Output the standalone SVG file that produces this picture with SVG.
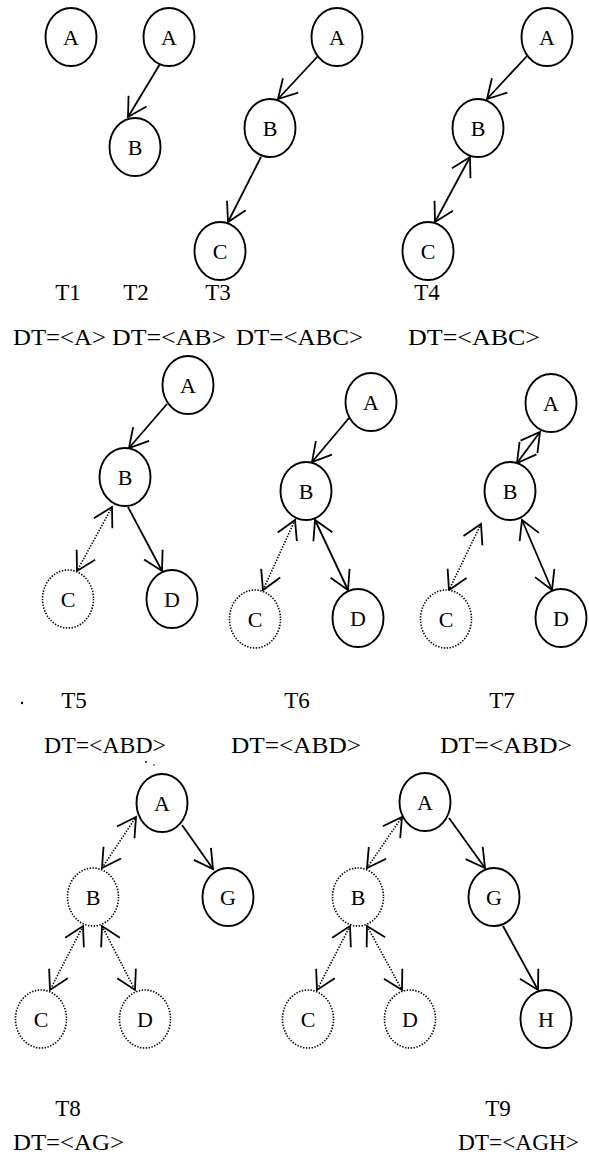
<svg xmlns="http://www.w3.org/2000/svg" width="589" height="1159" viewBox="0 0 589 1159">
  <style>
    .n { fill: #fff; stroke: #000; stroke-width: 1.9; }
    .nd { fill: #fff; stroke: #000; stroke-width: 1.6; stroke-dasharray: 1.4 1.5; }
    .nl { font-family: "Liberation Serif", "Times New Roman", serif; font-size: 22px; text-anchor: middle; fill: #000; }
    .e { fill: none; stroke: #000; stroke-width: 1.8; }
    .ed { fill: none; stroke: #000; stroke-width: 1.6; stroke-dasharray: 1.4 1.5; }
    .one { marker-end: url(#ah); }
    .two { marker-start: url(#ah); marker-end: url(#ah); }
    .cap { font-family: "Liberation Serif", "Times New Roman", serif; font-size: 23px; fill: #000; }
    .mid { text-anchor: middle; }
  </style>
  <defs>
    <marker id="ah" viewBox="-22 -13 26 26" refX="0" refY="0" markerWidth="26" markerHeight="26" markerUnits="userSpaceOnUse" orient="auto-start-reverse">
      <path d="M-18.5,-10.5 L0,0 L-18.5,10.5" fill="none" stroke="#000" stroke-width="1.8"/>
    </marker>
  </defs>

  <!-- connectors -->
  <g id="edges">
    <!-- T2 -->
    <line class="e one" x1="160" y1="64" x2="128" y2="117"/>
    <!-- T3 -->
    <line class="e one" x1="318" y1="56" x2="278" y2="99"/>
    <line class="e one" x1="261" y1="157" x2="228" y2="222"/>
    <!-- T4 -->
    <line class="e one" x1="527" y1="56" x2="487" y2="99"/>
    <line class="e two" x1="470" y1="157" x2="435" y2="222"/>
    <!-- T5 -->
    <line class="e one" x1="167" y1="404" x2="129" y2="448"/>
    <line class="ed two" x1="112" y1="507" x2="77" y2="571"/>
    <line class="e one" x1="128" y1="507" x2="162" y2="571"/>
    <!-- T6 -->
    <line class="e one" x1="349" y1="418" x2="312" y2="462"/>
    <line class="ed two" x1="295" y1="520" x2="263" y2="590"/>
    <line class="e two" x1="315" y1="520" x2="348" y2="590"/>
    <!-- T7 -->
    <line class="e two" x1="517" y1="463" x2="540" y2="432"/>
    <line class="ed two" x1="481" y1="524" x2="449" y2="590"/>
    <line class="e two" x1="522" y1="520" x2="552" y2="590"/>
    <!-- T8 -->
    <line class="ed two" x1="102" y1="868" x2="136" y2="817"/>
    <line class="e one" x1="182" y1="825" x2="213" y2="869"/>
    <line class="ed two" x1="83" y1="926" x2="50" y2="990"/>
    <line class="ed two" x1="102" y1="926" x2="135" y2="990"/>
    <!-- T9 -->
    <line class="ed two" x1="367" y1="868" x2="402" y2="817"/>
    <line class="e one" x1="449" y1="818" x2="485" y2="868"/>
    <line class="ed two" x1="350" y1="926" x2="317" y2="990"/>
    <line class="ed two" x1="367" y1="926" x2="402" y2="990"/>
    <line class="e one" x1="503" y1="926" x2="538" y2="990"/>
  </g>

  <!-- T1 -->
  <g id="t1-a"><ellipse class="n" cx="71" cy="37" rx="25.5" ry="29"/><text class="nl" x="71" y="44.5">A</text></g>
  <!-- T2 -->
  <g id="t2-a"><ellipse class="n" cx="169" cy="37" rx="25.5" ry="29"/><text class="nl" x="169" y="44.5">A</text></g>
  <g id="t2-b"><ellipse class="n" cx="135" cy="147" rx="25.5" ry="29"/><text class="nl" x="135" y="154.5">B</text></g>
  <!-- T3 -->
  <g id="t3-a"><ellipse class="n" cx="337" cy="37" rx="25.5" ry="29"/><text class="nl" x="337" y="44.5">A</text></g>
  <g id="t3-b"><ellipse class="n" cx="270" cy="128" rx="25.5" ry="29"/><text class="nl" x="270" y="135.5">B</text></g>
  <g id="t3-c"><ellipse class="n" cx="220" cy="251" rx="25.5" ry="29"/><text class="nl" x="220" y="258.5">C</text></g>
  <!-- T4 -->
  <g id="t4-a"><ellipse class="n" cx="547" cy="37" rx="25.5" ry="29"/><text class="nl" x="547" y="44.5">A</text></g>
  <g id="t4-b"><ellipse class="n" cx="478" cy="128" rx="25.5" ry="29"/><text class="nl" x="478" y="135.5">B</text></g>
  <g id="t4-c"><ellipse class="n" cx="428" cy="251" rx="25.5" ry="29"/><text class="nl" x="428" y="258.5">C</text></g>
  <!-- T5 -->
  <g id="t5-a"><ellipse class="n" cx="188" cy="385" rx="25.5" ry="29"/><text class="nl" x="188" y="392.5">A</text></g>
  <g id="t5-b"><ellipse class="n" cx="125" cy="477" rx="25.5" ry="29"/><text class="nl" x="125" y="484.5">B</text></g>
  <g id="t5-c"><ellipse class="nd" cx="68" cy="599" rx="25.5" ry="29"/><text class="nl" x="68" y="606.5">C</text></g>
  <g id="t5-d"><ellipse class="n" cx="172" cy="599" rx="25.5" ry="29"/><text class="nl" x="172" y="606.5">D</text></g>
  <!-- T6 -->
  <g id="t6-a"><ellipse class="n" cx="371" cy="402" rx="25.5" ry="29"/><text class="nl" x="371" y="409.5">A</text></g>
  <g id="t6-b"><ellipse class="n" cx="306" cy="491" rx="25.5" ry="29"/><text class="nl" x="306" y="498.5">B</text></g>
  <g id="t6-c"><ellipse class="nd" cx="255" cy="619" rx="25.5" ry="29"/><text class="nl" x="255" y="626.5">C</text></g>
  <g id="t6-d"><ellipse class="n" cx="358" cy="618" rx="25.5" ry="29"/><text class="nl" x="358" y="625.5">D</text></g>
  <!-- T7 -->
  <g id="t7-a"><ellipse class="n" cx="551" cy="403" rx="25.5" ry="29"/><text class="nl" x="551" y="410.5">A</text></g>
  <g id="t7-b"><ellipse class="n" cx="510" cy="491" rx="25.5" ry="29"/><text class="nl" x="510" y="498.5">B</text></g>
  <g id="t7-c"><ellipse class="nd" cx="446" cy="619" rx="25.5" ry="29"/><text class="nl" x="446" y="626.5">C</text></g>
  <g id="t7-d"><ellipse class="n" cx="561" cy="618" rx="25.5" ry="29"/><text class="nl" x="561" y="625.5">D</text></g>
  <!-- T8 -->
  <g id="t8-a"><ellipse class="n" cx="162" cy="803" rx="25.5" ry="29"/><text class="nl" x="162" y="810.5">A</text></g>
  <g id="t8-b"><ellipse class="nd" cx="93" cy="897" rx="25.5" ry="29"/><text class="nl" x="93" y="904.5">B</text></g>
  <g id="t8-g"><ellipse class="n" cx="228" cy="897" rx="25.5" ry="29"/><text class="nl" x="228" y="904.5">G</text></g>
  <g id="t8-c"><ellipse class="nd" cx="41" cy="1019" rx="25.5" ry="29"/><text class="nl" x="41" y="1026.5">C</text></g>
  <g id="t8-d"><ellipse class="nd" cx="145" cy="1019" rx="25.5" ry="29"/><text class="nl" x="145" y="1026.5">D</text></g>
  <!-- T9 -->
  <g id="t9-a"><ellipse class="n" cx="425" cy="802" rx="25.5" ry="29"/><text class="nl" x="425" y="809.5">A</text></g>
  <g id="t9-b"><ellipse class="nd" cx="358" cy="897" rx="25.5" ry="29"/><text class="nl" x="358" y="904.5">B</text></g>
  <g id="t9-g"><ellipse class="n" cx="494" cy="897" rx="25.5" ry="29"/><text class="nl" x="494" y="904.5">G</text></g>
  <g id="t9-c"><ellipse class="nd" cx="308" cy="1019" rx="25.5" ry="29"/><text class="nl" x="308" y="1026.5">C</text></g>
  <g id="t9-d"><ellipse class="nd" cx="410" cy="1019" rx="25.5" ry="29"/><text class="nl" x="410" y="1026.5">D</text></g>
  <g id="t9-h"><ellipse class="n" cx="546" cy="1019" rx="25.5" ry="29"/><text class="nl" x="546" y="1026.5">H</text></g>

  <!-- step labels and traversal strings -->
  <g id="labels">
    <text class="cap mid" x="68" y="300">T1</text>
    <text class="cap mid" x="136" y="300">T2</text>
    <text class="cap mid" x="218" y="300">T3</text>
    <text class="cap mid" x="427" y="300">T4</text>
    <text class="cap" x="13" y="345" textLength="93" lengthAdjust="spacingAndGlyphs">DT=&lt;A&gt;</text>
    <text class="cap" x="112" y="345" textLength="114" lengthAdjust="spacingAndGlyphs">DT=&lt;AB&gt;</text>
    <text class="cap" x="236" y="345" textLength="127" lengthAdjust="spacingAndGlyphs">DT=&lt;ABC&gt;</text>
    <text class="cap" x="408" y="345" textLength="132" lengthAdjust="spacingAndGlyphs">DT=&lt;ABC&gt;</text>

    <text class="cap mid" x="74" y="708">T5</text>
    <text class="cap mid" x="297" y="708">T6</text>
    <text class="cap mid" x="502" y="708">T7</text>
    <text class="cap" x="44" y="753" textLength="122" lengthAdjust="spacingAndGlyphs">DT=&lt;ABD&gt;</text>
    <text class="cap" x="231" y="753" textLength="130" lengthAdjust="spacingAndGlyphs">DT=&lt;ABD&gt;</text>
    <text class="cap" x="440" y="753" textLength="132" lengthAdjust="spacingAndGlyphs">DT=&lt;ABD&gt;</text>

    <text class="cap mid" x="68" y="1116">T8</text>
    <text class="cap mid" x="498" y="1116">T9</text>
    <text class="cap" x="13" y="1150" textLength="111" lengthAdjust="spacingAndGlyphs">DT=&lt;AG&gt;</text>
    <text class="cap" x="458" y="1150" textLength="121" lengthAdjust="spacingAndGlyphs">DT=&lt;AGH&gt;</text>
  </g>

  <!-- stray specks -->
  <circle cx="22" cy="703" r="1.2" fill="#000"/>
  <circle cx="146" cy="762" r="0.9" fill="#000"/>
  <circle cx="154" cy="765" r="0.8" fill="#000"/>
</svg>
